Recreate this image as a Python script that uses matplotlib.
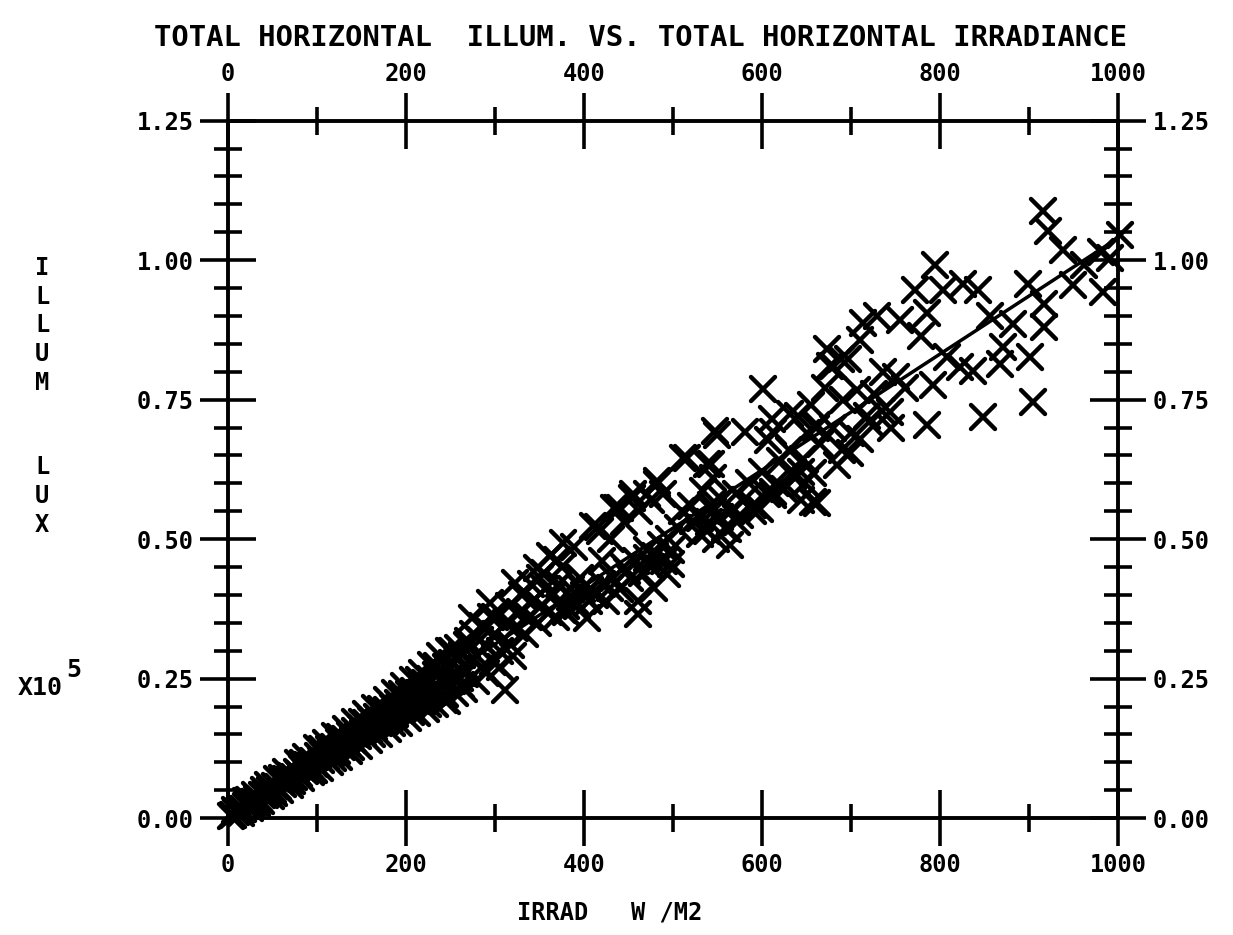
import matplotlib
matplotlib.use("Agg")
import matplotlib.pyplot as plt
from matplotlib.markers import MarkerStyle
from matplotlib.ticker import MultipleLocator, FormatStrFormatter

# ---- data (illuminance in units of 1e5 lux) ----
irrad_low = [3, 6, 9, 12, 14, 17, 20, 23, 26, 29, 32, 35, 38, 41, 44, 47, 50, 53,
             56, 59, 62, 65, 68, 71, 74, 77, 80, 83, 86, 89, 92, 95, 98, 101, 104,
             107, 110, 113, 116, 119, 122, 125, 128, 131, 134, 137, 140, 143, 146,
             149, 152, 155, 158, 161, 164, 167, 170, 173, 176, 179, 182, 185, 188,
             191, 194, 197, 200, 203, 206, 209, 212, 215, 218, 221, 224, 227, 230,
             233, 236, 239, 242, 245, 248, 251, 254, 257, 260, 263, 266]
illum_low = [0.004, 0.005, 0.011, 0.012, 0.016, 0.017, 0.022, 0.023, 0.028, 0.029,
             0.035, 0.034, 0.041, 0.042, 0.045, 0.051, 0.050, 0.058, 0.056, 0.064,
             0.062, 0.070, 0.068, 0.076, 0.074, 0.083, 0.079, 0.090, 0.085, 0.095,
             0.093, 0.103, 0.097, 0.111, 0.104, 0.115, 0.110, 0.124, 0.116, 0.128,
             0.121, 0.136, 0.128, 0.142, 0.134, 0.149, 0.140, 0.156, 0.147, 0.161,
             0.152, 0.170, 0.158, 0.175, 0.163, 0.181, 0.170, 0.188, 0.174, 0.194,
             0.182, 0.199, 0.186, 0.206, 0.192, 0.215, 0.203, 0.222, 0.205, 0.228,
             0.210, 0.236, 0.216, 0.243, 0.222, 0.250, 0.226, 0.257, 0.232, 0.264,
             0.240, 0.270, 0.244, 0.278, 0.250, 0.285, 0.252, 0.292, 0.258]

irrad_low2 = [8, 15, 24, 33, 40, 52, 60, 72, 84, 96, 105, 118, 126, 138, 150, 162,
              172, 184, 195, 205, 214, 225, 235, 244, 252, 262, 270, 246, 311]
illum_low2 = [0.015, 0.010, 0.032, 0.027, 0.050, 0.045, 0.072, 0.066, 0.098, 0.087,
              0.123, 0.108, 0.145, 0.127, 0.172, 0.150, 0.195, 0.170, 0.222, 0.190,
              0.248, 0.205, 0.272, 0.222, 0.300, 0.238, 0.318, 0.210, 0.230]

# upper and lower edges of the dense band
irrad_edge_hi = [20, 30, 45, 55, 65, 78, 88, 100, 110, 120, 132, 142, 155, 165,
                 178, 188, 198, 208, 218, 228, 238, 248, 258, 268, 275, 285, 295]
illum_edge_hi = [0.030, 0.042, 0.060, 0.070, 0.082, 0.098, 0.110, 0.125, 0.135,
                 0.148, 0.160, 0.172, 0.186, 0.197, 0.212, 0.224, 0.236, 0.248,
                 0.260, 0.275, 0.290, 0.300, 0.305, 0.310, 0.330, 0.345, 0.360]
irrad_edge_lo = [25, 37, 48, 58, 70, 82, 93, 103, 115, 125, 136, 147, 158, 170,
                 180, 192, 202, 212, 222, 232, 242, 255, 265, 278, 290, 305, 320]
illum_edge_lo = [0.018, 0.030, 0.040, 0.050, 0.060, 0.072, 0.082, 0.090, 0.100,
                 0.110, 0.120, 0.130, 0.140, 0.150, 0.160, 0.170, 0.180, 0.188,
                 0.196, 0.205, 0.212, 0.225, 0.232, 0.245, 0.260, 0.270, 0.290]

irrad_mid = [274, 294, 322, 347, 370, 376, 410, 418, 437, 471, 403,
             280, 285, 290, 298, 300, 305, 312, 318, 322, 328, 333, 338, 342, 348,
             352, 356, 360, 365, 368, 372, 380, 385, 390, 395, 400, 300, 315, 330,
             290, 340, 355, 283,
             460, 460, 478, 493, 497, 471, 448, 429, 407, 384, 376, 388, 415, 440,
             455, 482, 489, 495, 505, 510, 454, 433, 482,
             380, 392, 398, 405, 412, 420, 425, 432, 440, 445, 452, 458, 465, 470,
             475, 480, 486, 490, 498, 420, 430, 445, 462, 475, 350, 362, 375]
illum_mid = [0.359, 0.385, 0.421, 0.448, 0.462, 0.493, 0.524, 0.515, 0.556, 0.581, 0.359,
             0.29, 0.27, 0.31, 0.28, 0.33, 0.30, 0.35, 0.31, 0.34, 0.37, 0.33, 0.36,
             0.39, 0.35, 0.38, 0.41, 0.37, 0.40, 0.36, 0.42, 0.38, 0.41, 0.39, 0.43,
             0.40, 0.36, 0.38, 0.40, 0.34, 0.42, 0.44, 0.32,
             0.365, 0.389, 0.412, 0.437, 0.455, 0.466, 0.443, 0.413, 0.408, 0.396,
             0.373, 0.485, 0.521, 0.556, 0.581, 0.604, 0.580, 0.50, 0.52, 0.55,
             0.573, 0.555, 0.598,
             0.37, 0.38, 0.41, 0.39, 0.40, 0.42, 0.39, 0.43, 0.41, 0.45, 0.43, 0.46,
             0.44, 0.48, 0.45, 0.47, 0.49, 0.46, 0.48, 0.46, 0.50, 0.53, 0.55, 0.57,
             0.43, 0.47, 0.45]

irrad_high = [511, 542, 516, 538, 545, 534, 522, 538, 564, 561, 575, 598, 612, 643,
              662, 635, 657, 684, 699, 646, 549, 606, 520, 530, 545, 555, 570, 585,
              600, 620, 630, 660, 640, 655, 670,
              601, 547, 581, 611, 631, 612, 673, 680, 696, 691, 662, 657, 643, 612,
              590, 542,
              650, 665, 680, 700, 720, 735, 745, 690, 710, 725, 750, 760,
              530, 540, 548, 552, 558, 565, 572, 580, 590, 605, 615, 625, 635, 648,
              915, 921, 938, 794, 772, 803, 826, 842, 713, 729, 755, 785, 778, 710,
              676, 688, 736, 707, 718, 744, 785, 848, 904, 901, 916, 916, 882, 871,
              867, 822, 837, 808, 792, 856, 898, 949, 961, 980, 991, 983, 1002]
illum_high = [0.645, 0.634, 0.645, 0.634, 0.609, 0.586, 0.532, 0.514, 0.490, 0.519,
              0.544, 0.554, 0.579, 0.571, 0.565, 0.614, 0.619, 0.632, 0.655, 0.643,
              0.686, 0.678, 0.56, 0.537, 0.55, 0.57, 0.58, 0.60, 0.62, 0.64, 0.66,
              0.70, 0.72, 0.74, 0.77,
              0.769, 0.693, 0.692, 0.715, 0.724, 0.692, 0.840, 0.811, 0.822, 0.750,
              0.704, 0.566, 0.620, 0.584, 0.561, 0.562,
              0.69, 0.67, 0.70, 0.69, 0.71, 0.73, 0.70, 0.66, 0.68, 0.76, 0.79, 0.77,
              0.51, 0.53, 0.50, 0.54, 0.52, 0.55, 0.53, 0.57, 0.55, 0.58, 0.60, 0.59,
              0.62, 0.60,
              1.088, 1.052, 1.019, 0.991, 0.946, 0.946, 0.958, 0.946, 0.888, 0.900,
              0.893, 0.905, 0.864, 0.857, 0.811, 0.822, 0.799, 0.768, 0.721, 0.727,
              0.704, 0.719, 0.746, 0.826, 0.880, 0.921, 0.885, 0.844, 0.813, 0.808,
              0.801, 0.826, 0.777, 0.899, 0.957, 0.956, 0.992, 1.015, 1.004, 0.943,
              1.045]

# least squares line drawn on the original
fit_irrad = [0, 1000]
fit_illum = [0.0, 1.04]

FONT = "DejaVu Sans Mono"
plt.rcParams["font.family"] = FONT
plt.rcParams["font.weight"] = "bold"

fig = plt.figure(figsize=(12.33, 9.35), dpi=100)
ax = fig.add_axes([0.185, 0.125, 0.722, 0.746])

xmark = MarkerStyle("x", capstyle="round")
mk = dict(marker=xmark, linestyle="none", color="black", markersize=17,
          markeredgewidth=3.2, clip_on=False)
ax.plot(irrad_low, illum_low, **mk)
ax.plot(irrad_low2, illum_low2, **mk)
ax.plot(irrad_edge_hi, illum_edge_hi, **mk)
ax.plot(irrad_edge_lo, illum_edge_lo, **mk)
ax.plot(irrad_mid, illum_mid, **mk)
ax.plot(irrad_high, illum_high, **mk)
ax.plot(fit_irrad, fit_illum, color="black", linewidth=2.5)

ax.set_xlim(0, 1000)
ax.set_ylim(0, 1.25)
ax.xaxis.set_major_locator(MultipleLocator(200))
ax.xaxis.set_minor_locator(MultipleLocator(100))
ax.yaxis.set_major_locator(MultipleLocator(0.25))
ax.yaxis.set_minor_locator(MultipleLocator(0.05))
ax.yaxis.set_major_formatter(FormatStrFormatter("%.2f"))

ax.tick_params(which="both", direction="inout", width=2.6, color="black",
               top=True, right=True, labeltop=True, labelright=True,
               labelsize=17, pad=5)
ax.tick_params(which="major", length=40)
ax.tick_params(which="minor", length=20)
for lab in ax.get_xticklabels(which="both") + ax.get_yticklabels(which="both"):
    lab.set_fontweight("bold")
for s in ax.spines.values():
    s.set_linewidth(2.8)

fig.text(640 / 1233, 1 - 38 / 935,
         "TOTAL HORIZONTAL  ILLUM. VS. TOTAL HORIZONTAL IRRADIANCE",
         ha="center", va="center", fontsize=20.8, fontweight="bold")
fig.text(610 / 1233, 1 - 912 / 935, "IRRAD   W /M2",
         ha="center", va="center", fontsize=17, fontweight="bold")
fig.text(42 / 1233, 1 - 256 / 935, "I\nL\nL\nU\nM", ha="center", va="top",
         fontsize=17, fontweight="bold", linespacing=1.25)
fig.text(42 / 1233, 1 - 455 / 935, "L\nU\nX", ha="center", va="top",
         fontsize=17, fontweight="bold", linespacing=1.25)
fig.text(18 / 1233, 1 - 688 / 935, "X10", ha="left", va="center",
         fontsize=18, fontweight="bold")
fig.text(66 / 1233, 1 - 670 / 935, "5", ha="left", va="center",
         fontsize=18, fontweight="bold")

fig.savefig("out.png", dpi=100, facecolor="white")
